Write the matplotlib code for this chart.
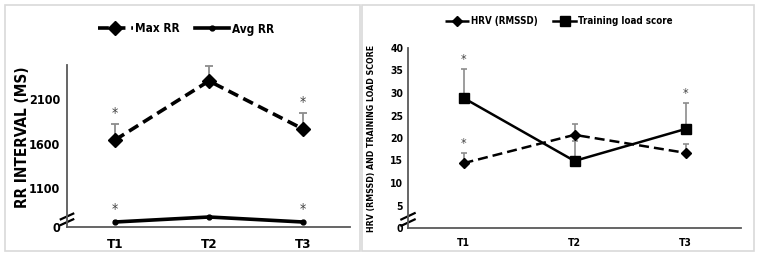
import matplotlib
matplotlib.use("Agg")
import matplotlib.pyplot as plt
from matplotlib.patches import Rectangle
from matplotlib.lines import Line2D
from matplotlib import font_manager

names = {f.name for f in font_manager.fontManager.ttflist}
fam = ['Liberation Sans Narrow'] if 'Liberation Sans Narrow' in names else []
plt.rcParams['font.family'] = fam + ['DejaVu Sans']
plt.rcParams['font.stretch'] = 'condensed'

# ---- data ----
timepoints = ["T1", "T2", "T3"]
max_rr = [1641, 2302, 1764]
max_rr_sd = [180, 170, 180]
avg_rr = [722, 778, 722]
left_yticks = [666, 1100, 1600, 2100]
left_yticklabels = ["0", "1100", "1600", "2100"]

hrv = [14.4, 20.7, 16.7]
hrv_sd = [2.3, 2.4, 2.0]
training = [28.9, 14.9, 22.0]
training_sd = [6.4, 4.5, 5.8]
right_yticks = [0, 5, 10, 15, 20, 25, 30, 35, 40]

W, H = 759, 257
fig = plt.figure(figsize=(W / 100, H / 100), dpi=100)
fig.patch.set_facecolor("white")

# panel borders
for (x0, x1) in [(5, 360), (362, 754)]:
    fig.add_artist(Rectangle((x0 / W, 1 - 251 / H), (x1 - x0) / W, (251 - 5) / H,
                             transform=fig.transFigure, fill=False,
                             edgecolor="#d9d9d9", linewidth=1.2))

def px(x0, y0, x1, y1):
    return [x0 / W, 1 - y1 / H, (x1 - x0) / W, (y1 - y0) / H]

spine_col = "#595959"
err_col = "#8c8c8c"
x = list(range(len(timepoints)))

def style(ax):
    for s in ["top", "right"]:
        ax.spines[s].set_visible(False)
    for s in ["left", "bottom"]:
        ax.spines[s].set_color(spine_col)
        ax.spines[s].set_linewidth(1.3)
    ax.tick_params(length=0)
    ax.set_xticks(x)
    ax.set_xticklabels(timepoints, fontweight="bold")

def brk(ax, dx=0.022, dy=0.035, y0=0.03):
    for off in [0.0, 0.035]:
        ax.add_line(Line2D([-dx, dx], [y0 + off - dy / 2, y0 + off + dy / 2],
                           transform=ax.transAxes, color="black", lw=1.6, clip_on=False))

# ---- left panel ----
axL = fig.add_axes(px(67, 65, 350, 227))
style(axL)
axL.set_xlim(-0.51, 2.5)
axL.set_ylim(666, 2481)
axL.set_yticks(left_yticks)
axL.set_yticklabels(left_yticklabels, fontweight="bold", fontsize=9)
axL.tick_params(axis="x", labelsize=9.5, pad=8)
axL.tick_params(axis="y", pad=5)
axL.errorbar(x, max_rr, yerr=[[0] * 3, max_rr_sd], fmt="none", ecolor=err_col,
             elinewidth=1.3, capsize=3, capthick=1.3, zorder=1)
axL.plot(x, max_rr, color="black", lw=2.6, ls=(0, (3, 1.6)), marker="D",
         markersize=7, label="Max RR", zorder=3)
axL.plot(x, avg_rr, color="black", lw=2.6, marker="o", markersize=3.5,
         label="Avg RR", zorder=3)
for i in [0, 2]:
    axL.text(x[i], max_rr[i] + max_rr_sd[i] + 45, "*", ha="center", va="bottom",
             fontsize=10, color="#444444")
    axL.text(x[i], avg_rr[i] + 70, "*", ha="center", va="bottom",
             fontsize=10, color="#444444")
axL.set_ylabel("RR INTERVAL (MS)", fontweight="bold", fontsize=11)
axL.yaxis.set_label_coords(-0.13, 0.555)
axL.legend(loc="center", bbox_to_anchor=(186 / W, 1 - 29 / H), bbox_transform=fig.transFigure,
           ncol=2, frameon=False, prop=dict(size=8.5, weight="bold"), handlelength=2.9,
           columnspacing=1.3, handletextpad=0.2)
brk(axL)

# ---- right panel ----
axR = fig.add_axes(px(408, 48, 741, 228))
style(axR)
axR.set_xlim(-0.5, 2.5)
axR.set_ylim(0, 40)
axR.set_yticks(right_yticks)
axR.set_yticklabels([str(v) for v in right_yticks], fontweight="bold", fontsize=7.5)
axR.tick_params(axis="x", labelsize=7.5, pad=7)
axR.errorbar(x, hrv, yerr=[[0] * 3, hrv_sd], fmt="none", ecolor=err_col,
             elinewidth=1.2, capsize=2.5, capthick=1.2, zorder=1)
axR.errorbar(x, training, yerr=[[0] * 3, training_sd], fmt="none", ecolor=err_col,
             elinewidth=1.2, capsize=2.5, capthick=1.2, zorder=1)
axR.plot(x, hrv, color="black", lw=1.8, ls=(0, (4, 2)), marker="D",
         markersize=5, label="HRV (RMSSD)", zorder=3)
axR.plot(x, training, color="black", lw=1.8, marker="s", markersize=7.5,
         label="Training load score", zorder=3)
axR.text(x[0], hrv[0] + hrv_sd[0] + 0.6, "*", ha="center", va="bottom", fontsize=9, color="#444444")
axR.text(x[0], training[0] + training_sd[0] + 0.6, "*", ha="center", va="bottom", fontsize=9, color="#444444")
axR.text(x[2], training[2] + training_sd[2] + 0.6, "*", ha="center", va="bottom", fontsize=9, color="#444444")
axR.set_ylabel("HRV (RMSSD) AND TRAINING LOAD SCORE", fontweight="bold", fontsize=6.3, labelpad=10)
axR.legend(loc="center", bbox_to_anchor=(559 / W, 1 - 21 / H), bbox_transform=fig.transFigure,
           ncol=2, frameon=False, prop=dict(size=7, weight="bold"), handlelength=2.4,
           columnspacing=1.6, handletextpad=0.2)
brk(axR, dx=0.02, dy=0.035, y0=0.03)

fig.savefig("out.png", dpi=100, facecolor="white")
